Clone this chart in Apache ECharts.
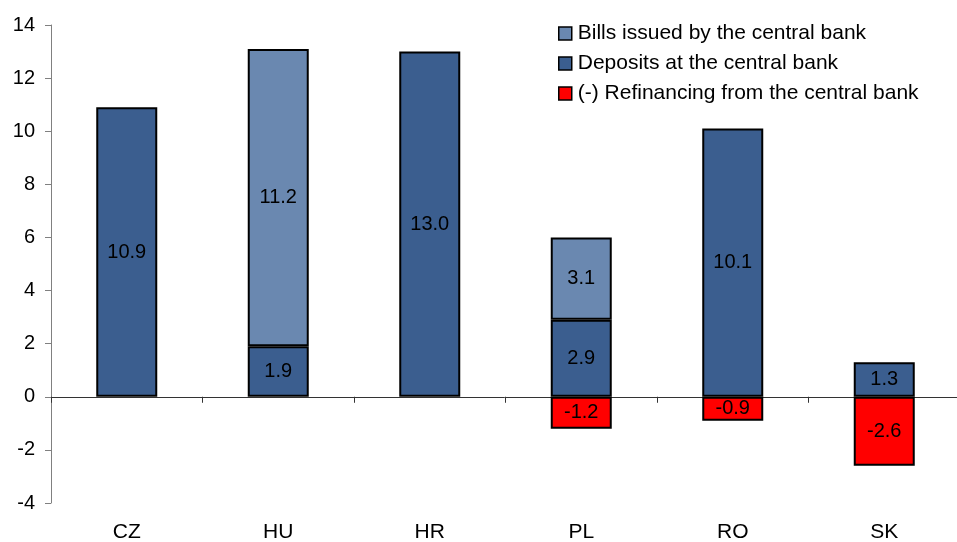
<!DOCTYPE html>
<html>
<head>
<meta charset="utf-8">
<script src="https://cdn.jsdelivr.net/npm/echarts@6/dist/echarts.min.js"></script>
<style>
  html, body { margin: 0; padding: 0; background: #fff; }
  #chart { width: 957px; height: 542px; }
</style>
</head>
<body>
<div id="chart"></div>
<script>
// Country codes along the category axis
const countries = ['CZ', 'HU', 'HR', 'PL', 'RO', 'SK'];

// Liquidity components, % (null = not applicable)
const deposits    = [10.9, 1.9, 13.0, 2.9, 10.1, 1.3];
const bills       = [null, 11.2, null, 3.1, null, null];
const refinancing = [null, null, null, -1.2, -0.9, -2.6];

// Value-axis range and step
const yMin = -4;
const yMax = 14;
const yStep = 2;

const FONT = 'Arial, "Liberation Sans", sans-serif';

const chart = echarts.init(document.getElementById('chart'), null, { renderer: 'canvas' });

const labelStyle = {
  show: true,
  position: 'inside',
  color: '#000',
  fontSize: 20,
  fontFamily: FONT,
  formatter: p => (p.value == null ? '' : Number(p.value).toFixed(1))
};

function barSeries(name, data, color) {
  return {
    name: name,
    type: 'bar',
    stack: 'total',
    xAxisIndex: 0,
    barWidth: 61,
    data: data,
    itemStyle: { color: color, borderColor: '#000', borderWidth: 2 },
    label: labelStyle,
    emphasis: { disabled: true }
  };
}

chart.setOption({
  animation: false,
  backgroundColor: '#fff',
  grid: { left: 51, right: -3, top: 25, bottom: 39, containLabel: false, outerBoundsMode: 'none' },
  legend: {
    orient: 'vertical',
    left: 553,
    top: 18,
    icon: 'rect',
    itemWidth: 13,
    itemHeight: 13,
    itemGap: 9,
    data: ['Bills issued by the central bank', 'Deposits at the central bank', '(-) Refinancing from the central bank'],
    textStyle: { color: '#000', fontSize: 21, lineHeight: 21, fontFamily: FONT, padding: [0, 0, 0, 1] },
    itemStyle: { borderColor: '#000', borderWidth: 1.5 }
  },
  xAxis: [
    {
      // labels along the bottom edge
      type: 'category',
      data: countries,
      position: 'bottom',
      axisLine: { show: false, onZero: false },
      axisTick: { show: false },
      axisLabel: { color: '#000', fontSize: 21, fontFamily: FONT, margin: 19 },
      splitLine: { show: false }
    },
    {
      // baseline at zero with category boundary ticks
      type: 'category',
      data: countries,
      position: 'bottom',
      axisLine: { show: true, onZero: true, lineStyle: { color: '#333', width: 1 } },
      axisTick: { show: true, length: 6, lineStyle: { color: '#333' } },
      axisLabel: { show: false },
      splitLine: { show: false }
    }
  ],
  yAxis: {
    type: 'value',
    min: yMin,
    max: yMax,
    interval: yStep,
    axisLine: { show: true, lineStyle: { color: '#808080', width: 1 } },
    axisTick: { show: true, length: 6, lineStyle: { color: '#808080' } },
    axisLabel: { color: '#000', fontSize: 20, fontFamily: FONT, margin: 16 },
    splitLine: { show: false }
  },
  series: [
    barSeries('Deposits at the central bank', deposits, '#3B5E8F'),
    barSeries('Bills issued by the central bank', bills, '#6A88B0'),
    barSeries('(-) Refinancing from the central bank', refinancing, '#FF0000')
  ]
});
</script>
</body>
</html>
